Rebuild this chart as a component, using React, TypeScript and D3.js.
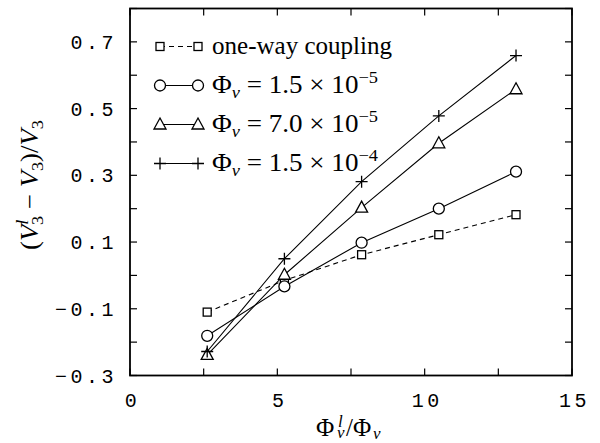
import React from "react";
import * as d3 from "d3";

const xValues = [2.62, 5.24, 7.86, 10.48, 13.1];
const oneWay = [-0.11, -0.015, 0.062, 0.122, 0.182];
const phi15e5 = [-0.181, -0.033, 0.098, 0.2, 0.311];
const phi70e5 = [-0.238, 0.002, 0.203, 0.396, 0.558];
const phi15e4 = [-0.228, 0.05, 0.281, 0.478, 0.659];
const xTicks = [0, 2.5, 5, 7.5, 10, 12.5, 15];
const xTickLabels = [0, 5, 10, 15];
const yTicks = [-0.3, -0.2, -0.1, 0, 0.1, 0.2, 0.3, 0.4, 0.5, 0.6, 0.7, 0.8];
const yTickLabels = [-0.3, -0.1, 0.1, 0.3, 0.5, 0.7];

const W = 600, H = 443;
const L = 130, R = 572, T = 8.5, B = 375.5;

type Sym = "square" | "circle" | "triangle" | "plus";
const seriesList: { name: string; values: number[]; sym: Sym; dashed: boolean; mant: string; exp: string }[] = [
  { name: "one-way coupling", values: oneWay, sym: "square", dashed: true, mant: "", exp: "" },
  { name: "phi15e5", values: phi15e5, sym: "circle", dashed: false, mant: "1.5", exp: "−5" },
  { name: "phi70e5", values: phi70e5, sym: "triangle", dashed: false, mant: "7.0", exp: "−5" },
  { name: "phi15e4", values: phi15e4, sym: "plus", dashed: false, mant: "1.5", exp: "−4" },
];

function Marker({ sym, x, y }: { sym: Sym; x: number; y: number }) {
  const st = { fill: "white", stroke: "black", strokeWidth: 1.3 };
  if (sym === "square") return <rect x={x - 4} y={y - 4} width={8} height={8} {...st} />;
  if (sym === "circle") return <circle cx={x} cy={y} r={5.5} {...st} />;
  if (sym === "triangle")
    return <path d={`M${x},${y - 6.5}L${x + 6},${y + 4.5}L${x - 6},${y + 4.5}Z`} {...st} />;
  return <path d={`M${x - 6},${y}H${x + 6}M${x},${y - 6}V${y + 6}`} stroke="black" strokeWidth={1.3} fill="none" />;
}

export default function App() {
  const x = d3.scaleLinear().domain([0, 15]).range([L, R]);
  const y = d3.scaleLinear().domain([-0.3, 0.8]).range([B, T]);
  const line = d3.line<number>().x((_, i) => x(xValues[i])).y((d) => y(d));
  const serif = "'Liberation Serif', 'DejaVu Serif', serif";
  const mono = "'Liberation Mono', 'DejaVu Sans Mono', monospace";
  const legY = [46.5, 85.5, 124.5, 163.5];
  const fs = 25;
  const sfs = 17;
  return (
    <svg width={W} height={H} style={{ position: "absolute", left: 0, top: 0, background: "white" }}>
      <rect width={W} height={H} fill="white" />
      {/* ticks */}
      {xTicks.map((t) => (
        <g key={"xt" + t}>
          <line x1={x(t)} x2={x(t)} y1={B} y2={B - 7} stroke="black" strokeWidth={1.2} />
          <line x1={x(t)} x2={x(t)} y1={T} y2={T + 7} stroke="black" strokeWidth={1.2} />
        </g>
      ))}
      {yTicks.map((t) => (
        <g key={"yt" + t}>
          <line x1={L} x2={L + 7} y1={y(t)} y2={y(t)} stroke="black" strokeWidth={1.2} />
          <line x1={R} x2={R - 7} y1={y(t)} y2={y(t)} stroke="black" strokeWidth={1.2} />
        </g>
      ))}
      {xTickLabels.map((t) => (
        <text key={"xl" + t} x={x(t) + 2.5} y={407} textAnchor="middle" fontFamily={mono} fontSize={20} letterSpacing={3.5}>
          {String(t)}
        </text>
      ))}
      {yTickLabels.map((t) => (
        <text key={"yl" + t} x={117} y={y(t) + 7} textAnchor="end" fontFamily={mono} fontSize={20} letterSpacing={3.5}>
          {t.toFixed(1).replace("-", "−")}
        </text>
      ))}
      {/* frame */}
      <rect x={L} y={T} width={R - L} height={B - T} fill="none" stroke="black" strokeWidth={1.8} />
      {/* series */}
      {seriesList.map((s) => (
        <g key={s.name}>
          <path d={line(s.values) || ""} fill="none" stroke="black" strokeWidth={1.1} strokeDasharray={s.dashed ? "5,4" : undefined} />
          {s.values.map((v, i) => (
            <Marker key={i} sym={s.sym} x={x(xValues[i])} y={y(v)} />
          ))}
        </g>
      ))}
      {/* legend */}
      {seriesList.map((s, i) => (
        <g key={"leg" + s.name}>
          <line x1={160} x2={198} y1={legY[i]} y2={legY[i]} stroke="black" strokeWidth={1.1} strokeDasharray={s.dashed ? "5,4" : undefined} />
          <Marker sym={s.sym} x={160} y={legY[i]} />
          <Marker sym={s.sym} x={198} y={legY[i]} />
          <text x={212} y={legY[i] + 7} fontFamily={serif} fontSize={fs}
            textLength={s.dashed ? 180 : 166} lengthAdjust="spacingAndGlyphs">
            {s.dashed ? (
              s.name
            ) : (
              <>
                <tspan>Φ</tspan>
                <tspan fontStyle="italic" fontSize={sfs} dy={5}>v</tspan>
                <tspan dy={-5}> = {s.mant} × 10</tspan>
                <tspan fontSize={sfs} dy={-10}>{s.exp}</tspan>
              </>
            )}
          </text>
        </g>
      ))}
      {/* x axis title */}
      <text x={316} y={436} fontFamily={serif} fontSize={fs}>Φ</text>
      <text x={338} y={427} fontFamily={serif} fontSize={sfs} fontStyle="italic">l</text>
      <text x={337} y={438} fontFamily={serif} fontSize={sfs} fontStyle="italic">v</text>
      <text x={346} y={436} fontFamily={serif} fontSize={fs}>/Φ</text>
      <text x={373} y={439} fontFamily={serif} fontSize={sfs} fontStyle="italic">v</text>
      {/* y axis title */}
      <text transform="translate(38,185) rotate(-90)" textAnchor="middle" fontFamily={serif} fontSize={fs}
        textLength={130} lengthAdjust="spacingAndGlyphs">
        <tspan>(</tspan>
        <tspan fontStyle="italic">V</tspan>
        <tspan fontStyle="italic" fontSize={sfs} dy={-10}>l</tspan>
        <tspan fontSize={sfs} dx={-5} dy={15}>3</tspan>
        <tspan dy={-5}> − </tspan>
        <tspan fontStyle="italic">V</tspan>
        <tspan fontSize={sfs} dy={5}>3</tspan>
        <tspan dy={-5}>)/</tspan>
        <tspan fontStyle="italic">V</tspan>
        <tspan fontSize={sfs} dy={5}>3</tspan>
      </text>
    </svg>
  );
}
